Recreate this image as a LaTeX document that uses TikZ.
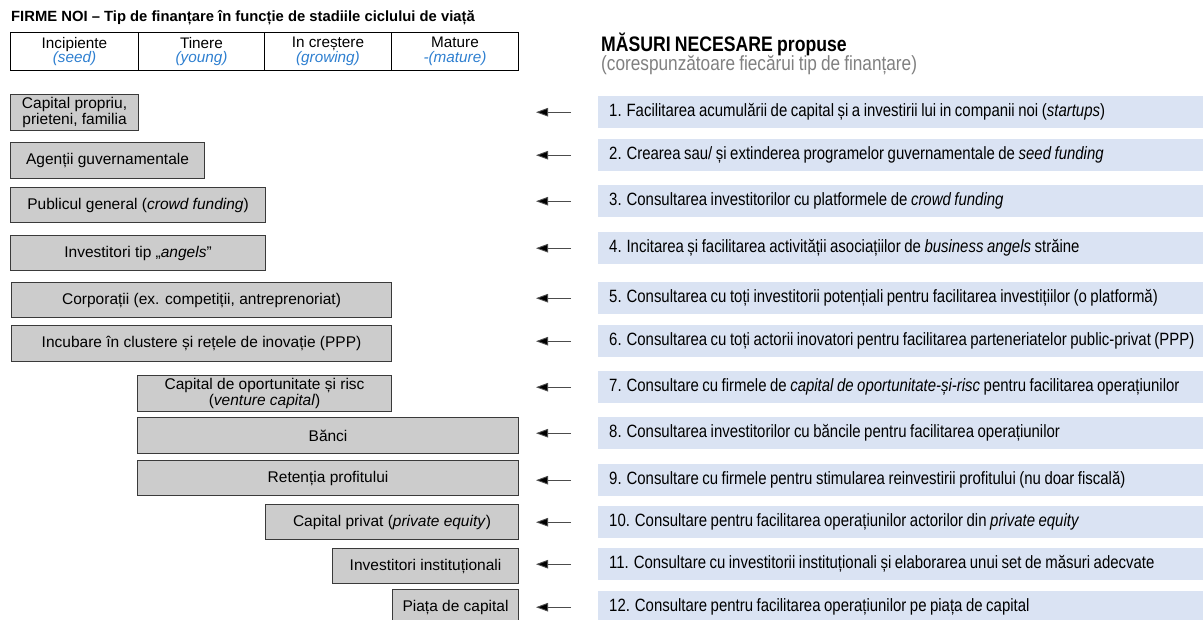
\documentclass[tikz,border=0pt]{standalone}
\usepackage{fontspec}
\setmainfont{Liberation Sans}
\newfontfamily\narrowfont[FakeStretch=0.84,WordSpace=0.85]{Liberation Sans}
\usetikzlibrary{arrows.meta}
\definecolor{boxgray}{HTML}{CCCCCC}
\definecolor{boxline}{HTML}{3A3A3A}
\definecolor{barblue}{HTML}{DAE3F3}
\definecolor{stageblue}{HTML}{2E7FD0}
\definecolor{subgray}{HTML}{808080}
\newcommand{\stage}[2]{#1\\\textcolor{stageblue}{\itshape #2}}
\tikzset{
  srcbox/.style={draw=boxline, line width=1.1pt, fill=boxgray, anchor=north west,
    align=center, inner sep=0pt, font=\fontsize{15.5}{14}\selectfont},
  cell/.style={draw=black, line width=0.9pt, anchor=north west, align=center,
    inner sep=0pt, minimum width=127pt, minimum height=38pt,
    font=\fontsize{15.3}{14.5}\selectfont},
  bar/.style={fill=barblue, anchor=north west, inner xsep=11pt, inner ysep=0pt,
    minimum height=32pt, font=\narrowfont\fontsize{17.8}{18}\selectfont},
  arr/.style={draw=black!70, line width=0.9pt, -{Triangle[length=12pt,width=8.5pt,fill=black]}},
}
\begin{document}
\begin{tikzpicture}[x=1pt,y=-1pt]
\useasboundingbox (0,0) rectangle (1203,620);
\clip (0,0) rectangle (1203,620);

% title and life-cycle stages
\node[anchor=west, inner sep=0pt, font=\bfseries\fontsize{14.8}{16}\selectfont] (title) at (11,18)
  {FIRME NOI – Tip de finanțare în funcție de stadiile ciclului de viață};
\node[cell, minimum width=128pt] (c1) at (10,32) {\stage{Incipiente}{(seed)}};
\node[cell, minimum width=126pt] (c2) at (138,32) {\stage{Tinere}{(young)}};
\node[cell] (c3) at (264,32) {\stage{In creștere}{(growing)}};
\node[cell] (c4) at (391,32) {\stage{Mature}{-(mature)}};

% sources of financing
\node[srcbox, minimum width=128pt, minimum height=36pt] (b1) at (10,94) {Capital propriu,\\prieteni, familia};
\node[srcbox, minimum width=194pt, minimum height=36pt] (b2) at (10,142) {Agenții guvernamentale};
\node[srcbox, minimum width=255pt, minimum height=35pt] (b3) at (10,187) {Publicul general (\textit{crowd funding})};
\node[srcbox, minimum width=255pt, minimum height=35pt] (b4) at (10,235) {Investitori tip „\textit{angels}”};
\node[srcbox, minimum width=380pt, minimum height=35pt] (b5) at (11,282) {Corporații (ex. competiții, antreprenoriat)};
\node[srcbox, minimum width=380pt, minimum height=36pt] (b6) at (11,325) {Incubare în clustere și rețele de inovație (PPP)};
\node[srcbox, minimum width=254pt, minimum height=36pt] (b7) at (137,375) {Capital de oportunitate și risc\\(\textit{venture capital})};
\node[srcbox, minimum width=381pt, minimum height=36pt] (b8) at (137,417) {Bănci};
\node[srcbox, minimum width=381pt, minimum height=35pt] (b9) at (137,460) {Retenția profitului};
\node[srcbox, minimum width=253pt, minimum height=35pt] (b10) at (265,504) {Capital privat (\textit{private equity})};
\node[srcbox, minimum width=186pt, minimum height=35pt] (b11) at (332,548) {Investitori instituționali};
\node[srcbox, minimum width=126pt, minimum height=36pt] (b12) at (392,589) {Piața de capital};

% proposed measures
\node[anchor=west, inner sep=0pt, font=\narrowfont\bfseries\fontsize{21}{21}\selectfont] (head) at (601,44)
  {MĂSURI NECESARE propuse};
\node[anchor=west, inner sep=0pt, text=subgray, font=\narrowfont\fontsize{20.5}{21}\selectfont] (sub) at (601,65)
  {(corespunzătoare fiecărui tip de finanțare)};

\node[bar] (m1) at (598,96) {\makebox[583pt][l]{1. Facilitarea acumulării de capital și a investirii lui in companii noi (\textit{startups})}};
\node[bar] (m2) at (598,139) {\makebox[583pt][l]{2. Crearea sau/ și extinderea programelor guvernamentale de \textit{seed funding}}};
\node[bar] (m3) at (598,185) {\makebox[583pt][l]{3. Consultarea investitorilor cu platformele de \textit{crowd funding}}};
\node[bar] (m4) at (598,232) {\makebox[583pt][l]{4. Incitarea și facilitarea activității asociațiilor de \textit{business angels} străine}};
\node[bar] (m5) at (598,282) {\makebox[583pt][l]{5. Consultarea cu toți investitorii potențiali pentru facilitarea investițiilor (o platformă)}};
\node[bar] (m6) at (598,325) {\makebox[583pt][l]{6. Consultarea cu toți actorii inovatori pentru facilitarea parteneriatelor public-privat (PPP)}};
\node[bar] (m7) at (598,371) {\makebox[583pt][l]{7. Consultare cu firmele de \textit{capital de oportunitate-și-risc} pentru facilitarea operațiunilor}};
\node[bar] (m8) at (598,417) {\makebox[583pt][l]{8. Consultarea investitorilor cu băncile pentru facilitarea operațiunilor}};
\node[bar] (m9) at (598,464) {\makebox[583pt][l]{9. Consultare cu firmele pentru stimularea reinvestirii profitului (nu doar fiscală)}};
\node[bar] (m10) at (598,506) {\makebox[583pt][l]{10. Consultare pentru facilitarea operațiunilor actorilor din \textit{private equity}}};
\node[bar] (m11) at (598,548) {\makebox[583pt][l]{11. Consultare cu investitorii instituționali și elaborarea unui set de măsuri adecvate}};
\node[bar] (m12) at (598,591) {\makebox[583pt][l]{12. Consultare pentru facilitarea operațiunilor pe piața de capital}};

% arrows pointing from each measure back to its source
\foreach \m in {m1,m2,m3,m4,m5,m6,m7,m8,m9,m10,m11,m12}
  \draw[arr] ([xshift=-27pt]\m.west) -- ([xshift=-62pt]\m.west);
\end{tikzpicture}
\end{document}
